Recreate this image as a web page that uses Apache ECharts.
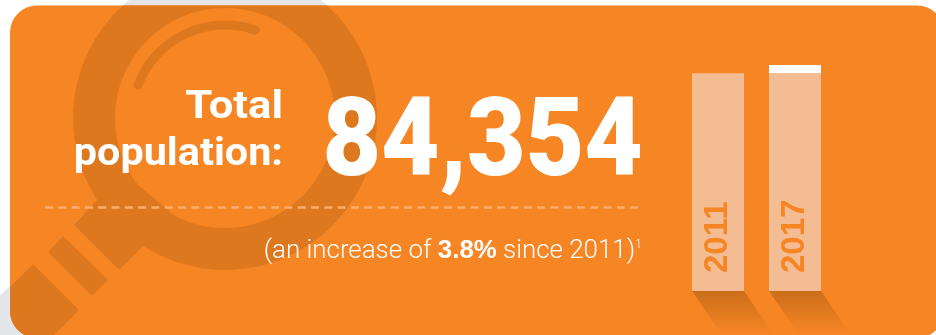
<!DOCTYPE html>
<html>
<head>
<meta charset="utf-8">
<style>html,body{margin:0;padding:0;background:#fff}#chart{width:936px;height:335px}</style>
<script src="https://cdn.jsdelivr.net/npm/echarts@6/dist/echarts.min.js"></script>
</head>
<body>
<div id="chart"></div>
<script>
// Census years and population counts
const years = ['2011', '2017'];
const basePopulation = [81266, 81266];
const populationGain = [null, 3088];
const totalPopulation = 84354;
const headlineLines = ['Total', 'population:'];
const notePrefix = '(an increase of ';
const noteValue = '3.8%';
const noteSuffix = ' since 2011)';
const noteMark = '1';

const ORANGE = '#F68524';
const DARK = '#DE781E';
const GREY = '#E3E5E8';
const PEACH = '#F4BC92';

// Magnifying-glass outlines used as the panel decoration
const shapes = {
  lensGrey: 'M377 118A152 152 0 1 1 73 118A152 152 0 1 1 377 118Z',
  gripGrey: 'M33 264L-10 305L-10 345L60 345L79 310Z',
  lensRing: 'M122.8 5.5L327.2 5.5A152 152 0 1 1 122.8 5.5Z M335 118A110 110 0 1 0 115 118A110 110 0 1 0 335 118Z',
  lensNeck: 'M97 200L74 225L119 270L143 246L180 220L120 170Z',
  gripBand: 'M63 236L48 252L92 296L108 280Z',
  gripEnd: 'M33 264L10 287L10 311A27 27 0 0 0 34 338L51 338L79 310Z'
};
Object.keys(shapes).forEach(name => {
  echarts.graphic.registerShape(name, echarts.graphic.extendPath(shapes[name]));
});

const chart = echarts.init(document.getElementById('chart'), null, {renderer: 'canvas'});

// Slanted cast shadow under each column, anchored to the column foot
function shadowItem(params, api) {
  const foot = api.coord([api.value(0), 0]);
  const half = 26;
  const h = 338 - foot[1];
  return {
    type: 'polygon',
    shape: {points: [[foot[0] - half, foot[1]], [foot[0] + half, foot[1]],
                     [foot[0] + half + 32, foot[1] + h], [foot[0] - half + 32, foot[1] + h]]},
    style: {fill: new echarts.graphic.LinearGradient(0, 0, 0, 1, [
      {offset: 0, color: 'rgba(204,110,26,1)'},
      {offset: 0.9, color: 'rgba(246,133,36,1)'},
      {offset: 1, color: 'rgba(246,133,36,1)'}
    ])}
  };
}

chart.setOption({
  animation: false,
  grid: {left: 679.5, width: 154, top: 65, height: 226},
  xAxis: {type: 'category', data: years, show: false},
  yAxis: {type: 'value', min: 0, max: totalPopulation, show: false},
  graphic: {elements: [
    // pale magnifier behind the panel
    {type: 'lensGrey', z: -10, style: {fill: GREY}},
    {type: 'gripGrey', z: -10, style: {fill: GREY}},
    // panel
    {type: 'rect', z: -9, shape: {x: 10, y: 5.5, width: 934, height: 332.5, r: 27}, style: {fill: ORANGE}},
    // darker magnifier on the panel
    {type: 'lensRing', z: -8, style: {fill: DARK}},
    {type: 'lensNeck', z: -8, style: {fill: DARK}},
    {type: 'gripBand', z: -8, style: {fill: DARK}},
    {type: 'gripEnd', z: -8, style: {fill: DARK}},
    {type: 'arc', z: -8, shape: {cx: 225, cy: 118, r: 93, startAngle: 200.8 * Math.PI / 180, endAngle: 289 * Math.PI / 180},
      style: {stroke: DARK, fill: null, lineWidth: 9, lineCap: 'round'}},
    // headline
    {type: 'text', z: 5, x: 283, y: 128, scaleX: 1.12, style: {text: headlineLines[0], x: 0, y: 0, align: 'right', verticalAlign: 'bottom',
      fill: '#fff', font: 'bold 39px Roboto'}},
    {type: 'text', z: 5, x: 283, y: 175, scaleX: 1.06, style: {text: headlineLines[1], x: 0, y: 0, align: 'right', verticalAlign: 'bottom',
      fill: '#fff', font: 'bold 39px Roboto'}},
    {type: 'text', z: 5, x: 643, y: 202, scaleX: 0.92, style: {text: totalPopulation.toLocaleString('en-US'), x: 0, y: 0, align: 'right', verticalAlign: 'bottom',
      fill: '#fff', font: '900 110px Roboto'}},
    {type: 'line', z: 5, shape: {x1: 45, y1: 207.5, x2: 640, y2: 207.5},
      style: {stroke: '#F9AD6C', lineWidth: 2.5, lineDash: [8, 5.3]}},
    {type: 'text', z: 5, x: 642, y: 264, scaleX: 1.035, style: {
      x: 0, y: 0, align: 'right', verticalAlign: 'bottom',
      text: '{n|' + notePrefix + '}{b|' + noteValue + '}{n|' + noteSuffix + '}{s|' + noteMark + '}',
      rich: {
        n: {fill: '#fff', font: '300 25px Roboto', verticalAlign: 'bottom'},
        b: {fill: '#fff', font: 'bold 25px "Liberation Sans"', verticalAlign: 'bottom'},
        s: {fill: '#fff', font: '300 12px Roboto', verticalAlign: 'top'}
      }
    }}
  ]},
  series: [
    {type: 'custom', renderItem: shadowItem, data: years.map((y, i) => [i]), encode: {x: 0, y: -1}, silent: true, z: 1, clip: false},
    {type: 'bar', stack: 'pop', barWidth: 52, data: basePopulation, z: 2, silent: true,
      itemStyle: {color: PEACH},
      label: {show: true, position: 'insideBottom', rotate: 90, distance: 18, align: 'left', verticalAlign: 'middle',
        formatter: p => years[p.dataIndex], color: ORANGE, fontFamily: 'Liberation Sans', fontWeight: 'bold', fontSize: 33}},
    {type: 'bar', stack: 'pop', barWidth: 52, data: populationGain, z: 2, silent: true, itemStyle: {color: '#fff'}}
  ]
});
</script>
</body>
</html>
